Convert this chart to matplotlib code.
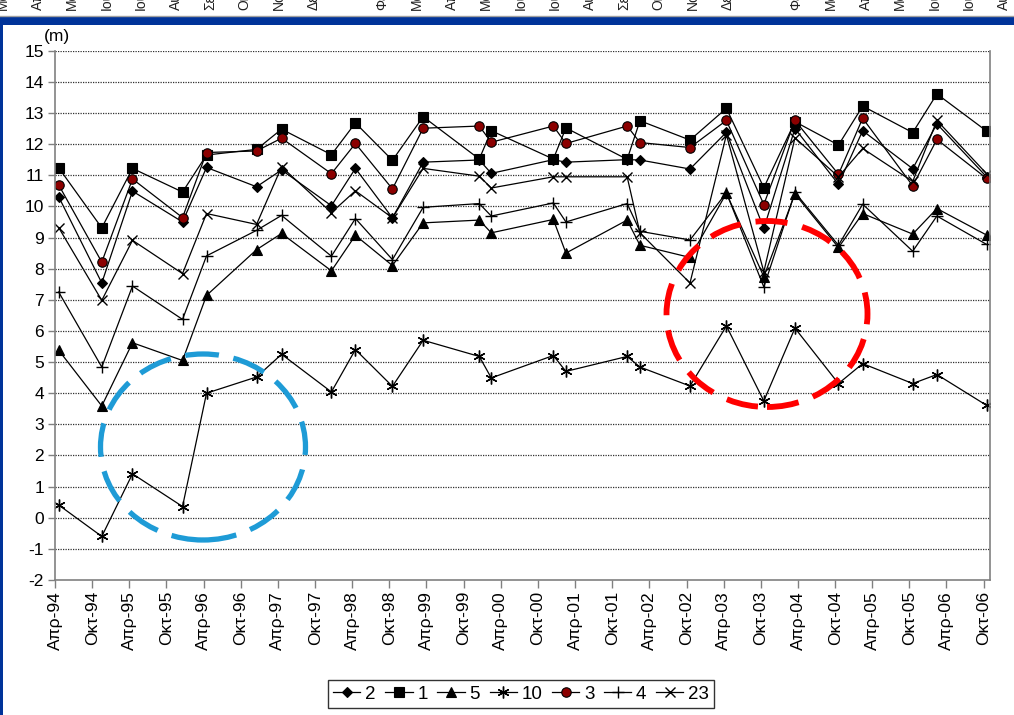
import datetime as dt
import matplotlib
matplotlib.use("Agg")
import matplotlib.pyplot as plt
import matplotlib.dates as mdates
from matplotlib.patches import Ellipse, Rectangle
from matplotlib.lines import Line2D

plt.rcParams['font.family'] = ['Liberation Sans', 'DejaVu Sans']

# ---- measurement dates -------------------------------------------------
sample_dates = [
    "1994-04-19", "1994-11-17", "1995-04-17", "1995-12-19", "1996-04-15",
    "1996-12-17", "1997-04-19", "1997-12-20", "1998-04-17", "1998-10-16",
    "1999-03-16", "1999-12-17", "2000-02-14", "2000-12-15", "2001-02-15",
    "2001-12-13", "2002-02-14", "2002-10-18", "2003-04-15", "2003-10-16",
    "2004-03-17", "2004-10-17", "2005-02-13", "2005-10-17", "2006-02-13",
    "2006-10-15",
]

# ---- water level per well (m) -----------------------------------------
well_2 = [10.31, 7.54, 10.49, 9.50, 11.25, 10.63, 11.17, 10.02, 11.22, 9.63,
          11.42, 11.49, 11.06, 11.50, 11.42, 11.50, 11.49, 11.20, 12.38, 9.29,
          12.50, 10.71, 12.43, 11.21, 12.65, 10.95]
well_1 = [11.24, 9.31, 11.22, 10.46, 11.65, 11.83, 12.48, 11.66, 12.68, 11.48,
          12.88, 11.52, 12.43, 11.52, 12.52, 11.51, 12.75, 12.13, 13.15, 10.60,
          12.72, 11.97, 13.22, 12.37, 13.61, 12.42]
well_5 = [5.38, 3.59, 5.62, 5.05, 7.14, 8.61, 9.13, 7.93, 9.07, 8.10,
          9.47, 9.56, 9.15, 9.58, 8.50, 9.56, 8.75, 8.36, 10.42, 7.74,
          10.40, 8.68, 9.77, 9.11, 9.93, 9.08]
well_10 = [0.41, -0.60, 1.41, 0.36, 4.00, 4.52, 5.25, 4.04, 5.40, 4.22,
           5.70, 5.18, 4.49, 5.21, 4.70, 5.18, 4.84, 4.23, 6.16, 3.75,
           6.09, 4.31, 4.95, 4.31, 4.60, 3.61]
well_3 = [10.69, 8.21, 10.88, 9.64, 11.73, 11.78, 12.19, 11.05, 12.02, 10.56,
          12.51, 12.58, 12.06, 12.58, 12.02, 12.58, 12.05, 11.89, 12.76, 10.06,
          12.76, 11.03, 12.83, 10.66, 12.15, 10.90]
well_4 = [7.25, 4.84, 7.44, 6.37, 8.41, 9.23, 9.71, 8.40, 9.61, 8.29,
          9.97, 10.09, 9.69, 10.11, 9.50, 10.09, 9.20, 8.92, 10.44, 7.41,
          10.45, 8.75, 10.07, 8.56, 9.69, 8.78]
well_23 = [9.32, 6.98, 8.91, 7.84, 9.77, 9.42, 11.27, 9.80, 10.50, 9.63,
           11.22, 10.97, 10.59, 10.95, 10.95, 10.95, 9.15, 7.54, 12.30, 7.90,
           12.20, 10.95, 11.86, 10.80, 12.76, 11.05]

series_names = ["2", "1", "5", "10", "3", "4", "23"]

# ---- axis ticks ----------------------------------------------------------
tick_dates = [f"{y}-{m:02d}-01" for y in range(1994, 2007) for m in (4, 10)]
tick_labels = [f"{'Απρ' if m == 4 else 'Οκτ'}-{y % 100:02d}"
               for y in range(1994, 2007) for m in (4, 10)]
y_ticks = list(range(-2, 16))

# month names of the panel above, whose lower ends reach into view
header_months = ["Μαρ", "Απρ", "Μαϊ", "Ιουν", "Ιουλ", "Αυγ", "Σεπ", "Οκτ",
                 "Νοε", "Δεκ", "", "Φεβ"]

W, H = 1014, 715
fig = plt.figure(figsize=(W / 100, H / 100), dpi=100, facecolor="white")

ax = fig.add_axes([55 / W, 1 - 580 / H, (990 - 55) / W, (580 - 50.7) / H])

dates = [dt.date.fromisoformat(d) for d in sample_dates]
values = [well_2, well_1, well_5, well_10, well_3, well_4, well_23]

styles = [
    dict(marker="D", ms=5.5, mfc="black", mec="black", mew=0.8),
    dict(marker="s", ms=6.8, mfc="black", mec="black", mew=0.8),
    dict(marker="^", ms=7.5, mfc="black", mec="black", mew=0.8),
    dict(marker=(6, 2, 0), ms=8.5, mfc="black", mec="black", mew=1.0),
    dict(marker="o", ms=6.8, mfc="#8B0000", mec="black", mew=0.8),
    dict(marker="+", ms=9, mfc="black", mec="black", mew=1.0),
    dict(marker="x", ms=7, mfc="black", mec="black", mew=1.0),
]

# dotted horizontal gridlines
for yv in y_ticks[1:]:
    ax.axhline(yv, color="#303030", lw=0.9, ls=(0, (1, 1)), zorder=0.5)

handles = []
for name, vals, st in zip(series_names, values, styles):
    ln, = ax.plot(dates, vals, color="black", lw=0.9, label=name, zorder=2, **st)
    handles.append(ln)

ax.set_ylim(-2, 15)
ax.set_yticks(y_ticks)
ax.set_yticklabels([str(v) for v in y_ticks])
ax.set_xlim(mdates.date2num(dt.date(1994, 4, 1)), mdates.date2num(dt.date(2006, 11, 1)))
ax.set_xticks(mdates.date2num([dt.date.fromisoformat(d) for d in tick_dates]))
ax.set_xticklabels(tick_labels, rotation=90)

for side in ("left", "bottom", "right"):
    ax.spines[side].set_color("#808080")
    ax.spines[side].set_linewidth(1.2)
ax.spines["top"].set_visible(False)
ax.tick_params(axis="y", direction="out", length=5, width=1, color="#808080",
               labelsize=12.5, pad=3)
ax.tick_params(axis="x", direction="out", length=6, width=1, color="#808080",
               labelsize=12.5, pad=2)

fig.text(57 / W, 1 - 36 / H, "(m)", ha="center", va="center", fontsize=12.5)

leg = fig.legend(handles, series_names, ncol=7, loc="center",
                 bbox_to_anchor=(521 / W, 1 - 694 / H), frameon=True,
                 fancybox=False, edgecolor="black", fontsize=13.5,
                 handlelength=1.45, handletextpad=0.25, columnspacing=0.52,
                 borderpad=0.3, borderaxespad=0)
leg.get_frame().set_linewidth(1.0)

# dashed highlight rings
fig.add_artist(Ellipse((203 / W, 1 - 447 / H), 205 / W, 186 / H,
                       transform=fig.transFigure, fill=False, ec="#1E9BD6",
                       lw=3.8, ls=(0, (6.4, 2.8)), zorder=5))
fig.add_artist(Ellipse((767 / W, 1 - 314 / H), 201 / W, 186 / H,
                       transform=fig.transFigure, fill=False, ec="#FF0000",
                       lw=4.2, ls=(0, (5.5, 2.6)), zorder=5))

# frame band along the top and left edge
fig.add_artist(Rectangle((0, 1 - 25 / H), 1, 8 / H, transform=fig.transFigure,
                         color="#003399", lw=0, zorder=6))
fig.add_artist(Rectangle((0, 0), 3 / W, 1 - 17 / H, transform=fig.transFigure,
                         color="#003399", lw=0, zorder=6))
fig.add_artist(Line2D([0, 1], [1 - 16 / H, 1 - 16 / H], transform=fig.transFigure,
                      color="#A0A0A0", lw=1, zorder=6))

for i in range(30):
    name = header_months[i % 12]
    if not name:
        continue
    fig.text((3 + 34.5 * i) / W, 1 - 10 / H, name, rotation=90, ha="center",
             va="bottom", fontsize=10, color="#202020")

fig.savefig("out.png", dpi=100, facecolor="white")
